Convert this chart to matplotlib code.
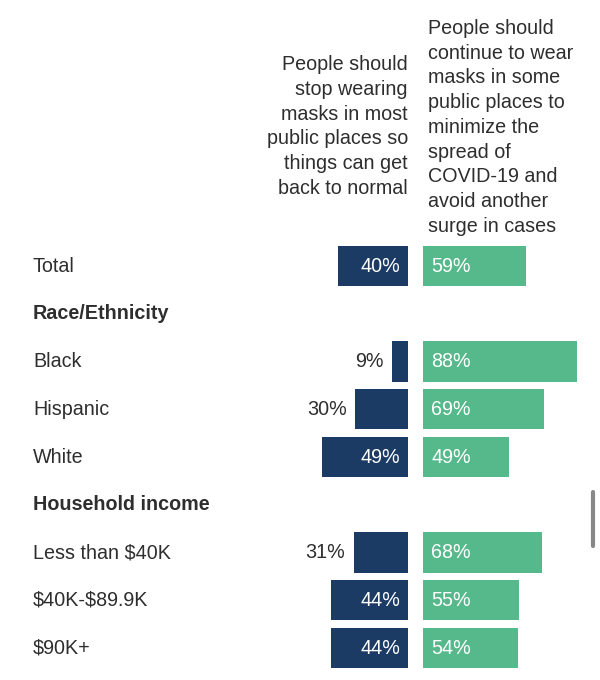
import matplotlib.pyplot as plt

plt.rcParams["font.family"] = ["Liberation Sans", "DejaVu Sans"]
plt.rcParams["text.parse_math"] = False

# rows top to bottom; None marks a group heading
rows = ["Total", "Race/Ethnicity", "Black", "Hispanic", "White",
        "Household income", "Less than $40K", "$40K-$89.9K", "$90K+"]
stop_masks = [40, None, 9, 30, 49, None, 31, 44, 44]
keep_masks = [59, None, 88, 69, 49, None, 68, 55, 54]

header_stop = ("People should\nstop wearing\nmasks in most\n"
               "public places so\nthings can get\nback to normal")
header_keep = ("People should\ncontinue to wear\nmasks in some\n"
               "public places to\nminimize the\nspread of\n"
               "COVID-19 and\navoid another\nsurge in cases")

NAVY = "#1b3b65"
GREEN = "#56b98b"
TEXT = "#2e2e2e"

fig = plt.figure(figsize=(6, 6.8), dpi=100)
ax = fig.add_axes([0, 0, 1, 1])
ax.set_xlim(-237.4, 105.4)
ax.set_ylim(8.67, -5.571)
ax.axis("off")

gap = 4.3  # half gap between the two bar columns, in percent units
bar_h = 0.84
fs = 14.2

for i, (name, a, b) in enumerate(zip(rows, stop_masks, keep_masks)):
    if a is None:
        ax.text(-218.6, i, name, ha="left", va="center", fontsize=fs,
                fontweight="bold", color=TEXT)
        continue
    ax.text(-218.6, i, name, ha="left", va="center", fontsize=fs, color=TEXT)
    ax.barh(i, -a, left=-gap, height=bar_h, color=NAVY)
    ax.barh(i, b, left=gap, height=bar_h, color=GREEN)
    if a >= 35:
        ax.text(-gap - 4.6, i, f"{a}%", ha="right", va="center",
                fontsize=fs, color="white")
    else:
        ax.text(-gap - a - 5, i, f"{a}%", ha="right", va="center",
                fontsize=fs, color=TEXT)
    ax.text(gap + 4.6, i, f"{b}%", ha="left", va="center",
            fontsize=fs, color="white")

ax.text(-gap, -1.424, header_stop, ha="right", va="bottom", fontsize=fs,
        color=TEXT, linespacing=1.385)
ax.text(gap + 3, -0.628, header_keep, ha="left", va="bottom", fontsize=fs,
        color=TEXT, linespacing=1.385)

# scrollbar remnant at the right edge
fig.add_artist(plt.Line2D([593 / 600, 593 / 600], [1 - 492 / 680, 1 - 546 / 680],
                          color="#888888", lw=3, solid_capstyle="round"))

fig.savefig("out.png", dpi=100, facecolor="white")
